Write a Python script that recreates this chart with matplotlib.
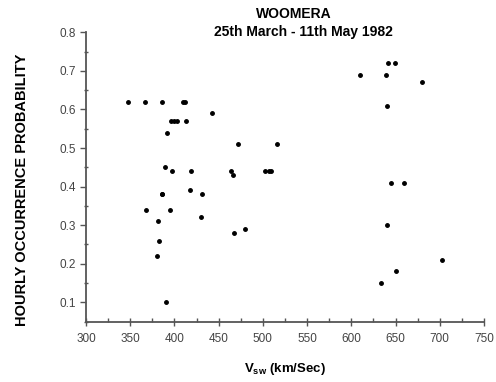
import numpy as np
import matplotlib
matplotlib.use("Agg")
import matplotlib.pyplot as plt
from matplotlib.ticker import MultipleLocator

# Solar wind speed (km/s) vs hourly occurrence probability
vsw = [347, 367, 386, 410, 412, 442, 396, 400, 403, 413, 392,
       472, 516, 389, 397, 419, 464, 466, 502, 507, 509,
       386, 386, 418, 431, 368, 395, 381, 430, 467, 480,
       382, 380, 390,
       642, 649, 610, 639, 680, 640, 645, 659, 640, 702, 650, 633]
prob = [0.62, 0.62, 0.62, 0.62, 0.62, 0.59, 0.57, 0.57, 0.57, 0.57, 0.54,
        0.51, 0.51, 0.45, 0.44, 0.44, 0.44, 0.43, 0.44, 0.44, 0.44,
        0.38, 0.38, 0.39, 0.38, 0.34, 0.34, 0.31, 0.32, 0.28, 0.29,
        0.26, 0.22, 0.10,
        0.72, 0.72, 0.69, 0.69, 0.67, 0.61, 0.41, 0.41, 0.30, 0.21, 0.18, 0.15]

plt.rcParams['font.family'] = ['Liberation Sans', 'DejaVu Sans']

fig = plt.figure(figsize=(4.96, 3.82), dpi=100)
ax = fig.add_axes([0.1734, 0.158, 0.8024, 0.7574])

ax.plot(vsw, prob, 'o', color='black', markersize=2.5, linestyle='none')

ax.set_xlim(300, 750)
ax.set_ylim(0.05, 0.8)
ax.xaxis.set_major_locator(MultipleLocator(50))
ax.xaxis.set_minor_locator(MultipleLocator(25))
ax.yaxis.set_minor_locator(MultipleLocator(0.05))
ax.set_yticks(np.arange(0.1, 0.81, 0.1))

for s in ['top', 'right']:
    ax.spines[s].set_visible(False)
for s in ['left', 'bottom']:
    ax.spines[s].set_color('#555555')
    ax.spines[s].set_linewidth(1.3)

ax.tick_params(axis='x', which='major', direction='inout', length=6, width=1, color='#555555',
               labelsize=8.5, labelcolor='#444444', pad=5)
ax.tick_params(axis='x', which='minor', direction='in', length=3, width=1, color='#555555')
ax.tick_params(axis='y', which='major', direction='out', length=4, width=1, color='#555555',
               labelsize=8.5, labelcolor='#444444', pad=3)
ax.tick_params(axis='y', which='minor', direction='inout', length=3, width=1, color='#555555')

# title lines placed by hand
fig.text(294 / 496, 1 - 13.5 / 382, 'WOOMERA', ha='center', va='center',
         fontsize=10, fontweight='bold')
fig.text(303 / 496, 1 - 32 / 382, '25th March - 11th May 1982', ha='center', va='center',
         fontsize=10, fontweight='bold')

ax.set_xlabel(r'V$_{\mathregular{sw}}$ (km/Sec)', fontsize=9.5, fontweight='bold', labelpad=12)
fig.text(22 / 496, 1 - 190 / 382, 'HOURLY OCCURRENCE PROBABILITY', rotation=90,
         ha='center', va='center', fontsize=10.5, fontweight='bold')

fig.savefig('out.png', dpi=100, facecolor='white')
